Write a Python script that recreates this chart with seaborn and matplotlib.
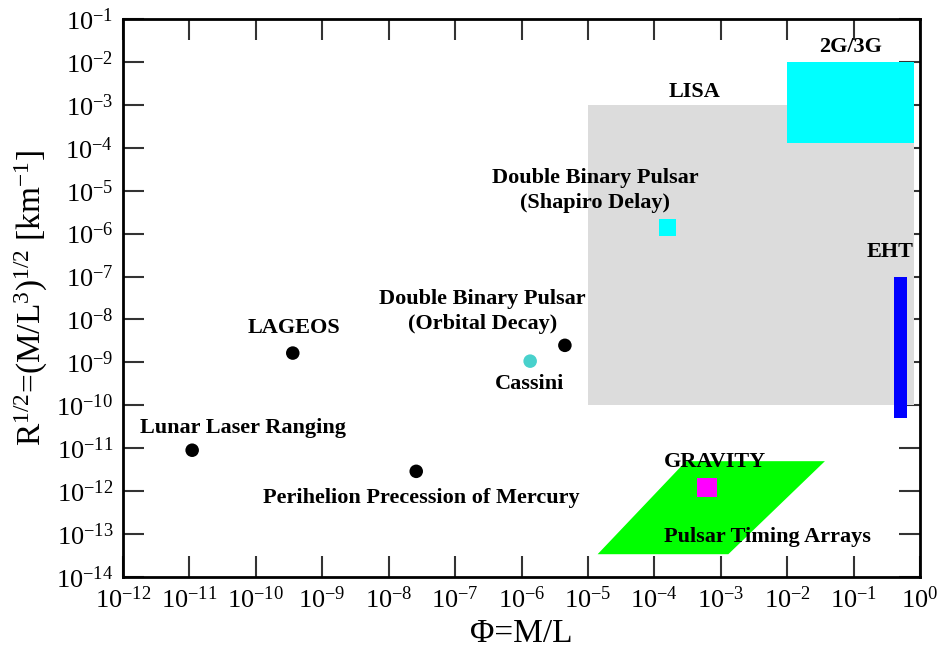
import numpy as np
import pandas as pd
import matplotlib
matplotlib.use("Agg")
import matplotlib.pyplot as plt
import seaborn as sns

# точечные эксперименты (Phi = M/L, R^{1/2})
dot_names = ["Lunar Laser Ranging", "LAGEOS", "Perihelion Precession of Mercury",
             "Double Binary Pulsar (Orbital Decay)"]
dot_phi = [1.1e-11, 3.6e-10, 2.6e-8, 4.5e-6]
dot_r = [9.0e-12, 1.65e-9, 2.9e-12, 2.5e-9]

cassini_phi = [1.35e-6]
cassini_r = [1.07e-9]

shapiro_phi = [1.6e-4]
shapiro_r = [1.4e-6]

gravity_phi = [6.2e-4]
gravity_r = [1.2e-12]

# области
lisa_phi = [1e-5, 0.8]
lisa_r = [1e-10, 1e-3]

gw_phi = [1e-2, 0.8]
gw_r = [1.3e-4, 1e-2]

eht_phi = [0.41, 0.63]
eht_r = [5e-11, 1e-7]

pta_phi = [1.4e-5, 1.3e-3, 3.7e-2, 3.0e-4]
pta_r = [3.4e-14, 3.4e-14, 5e-12, 5e-12]

# подписи: текст, x, y
labels = [
    ("2G/3G", 0.09, 0.022),
    ("LISA", 4.0e-4, 2.0e-3),
    ("Double Binary Pulsar\n(Shapiro Delay)", 1.3e-5, 1.0e-5),
    ("EHT", 0.35, 3.7e-7),
    ("Double Binary Pulsar\n(Orbital Decay)", 2.6e-7, 1.55e-8),
    ("LAGEOS", 3.7e-10, 6.3e-9),
    ("Cassini", 1.3e-6, 3.2e-10),
    ("Lunar Laser Ranging", 6.5e-11, 3.0e-11),
    ("Perihelion Precession of Mercury", 3.1e-8, 6.9e-13),
    ("GRAVITY", 8.1e-4, 4.8e-12),
    ("Pulsar Timing Arrays", 5.1e-3, 8.5e-14),
]

sns.set_style("ticks")
plt.rcParams["font.family"] = ["Liberation Serif", "DejaVu Serif"]
plt.rcParams["mathtext.fontset"] = "custom"
plt.rcParams["mathtext.rm"] = "Liberation Serif"
plt.rcParams["mathtext.it"] = "Liberation Serif:italic"
plt.rcParams["mathtext.default"] = "regular"
plt.rcParams["axes.unicode_minus"] = False
for key in ["text.color", "axes.labelcolor", "xtick.color", "ytick.color"]:
    plt.rcParams[key] = "black"

fig = plt.figure(figsize=(9.41, 6.49), dpi=100)
ax = fig.add_axes([0.1307, 0.1109, 0.847, 0.8598])

# LISA
ax.fill([lisa_phi[0], lisa_phi[1], lisa_phi[1], lisa_phi[0]],
        [lisa_r[0], lisa_r[0], lisa_r[1], lisa_r[1]], color="#dcdcdc", lw=0, zorder=1)
# 2G/3G
ax.fill([gw_phi[0], gw_phi[1], gw_phi[1], gw_phi[0]],
        [gw_r[0], gw_r[0], gw_r[1], gw_r[1]], color="#00ffff", lw=0, zorder=2)
# EHT
ax.fill([eht_phi[0], eht_phi[1], eht_phi[1], eht_phi[0]],
        [eht_r[0], eht_r[0], eht_r[1], eht_r[1]], color="#0000ff", lw=0, zorder=2)
# PTA
ax.fill(pta_phi, pta_r, color="#00ff00", lw=0, zorder=2)

dots = pd.DataFrame({"phi": dot_phi, "r": dot_r, "name": dot_names})
sns.scatterplot(data=dots, x="phi", y="r", ax=ax, color="black", s=95,
                edgecolor="none", zorder=4)
sns.scatterplot(x=cassini_phi, y=cassini_r, ax=ax, color="#48d1cc", s=95,
                edgecolor="none", zorder=4)
sns.scatterplot(x=shapiro_phi, y=shapiro_r, ax=ax, color="#00ffff", marker="s",
                s=150, edgecolor="none", zorder=4)
sns.scatterplot(x=gravity_phi, y=gravity_r, ax=ax, color="#ff00ff", marker="s",
                s=190, edgecolor="none", zorder=4)

for txt, lx, ly in labels:
    ax.text(lx, ly, txt, ha="center", va="center", fontsize=16,
            fontweight="bold", zorder=5, linespacing=1.3)

ax.set_xscale("log")
ax.set_yscale("log")
ax.set_xlim(1e-12, 1e0)
ax.set_ylim(1e-14, 1e-1)
ax.set_xticks([10.0 ** k for k in range(-12, 1)])
ax.set_yticks([10.0 ** k for k in range(-14, 0)])
ax.minorticks_off()
ax.tick_params(which="major", direction="in", length=15, width=1.5,
               top=True, right=True, labelsize=19, pad=7, color="#333333")
for sp in ax.spines.values():
    sp.set_linewidth(2)
    sp.set_color("black")

ax.set_xlabel("Φ=M/L", fontsize=24, labelpad=4)
ax.set_ylabel(r"R$^{1/2}$=(M/L$^{3}$)$^{1/2}$ [km$^{-1}$]", fontsize=24, labelpad=4)

plt.savefig("out.png", dpi=100)
